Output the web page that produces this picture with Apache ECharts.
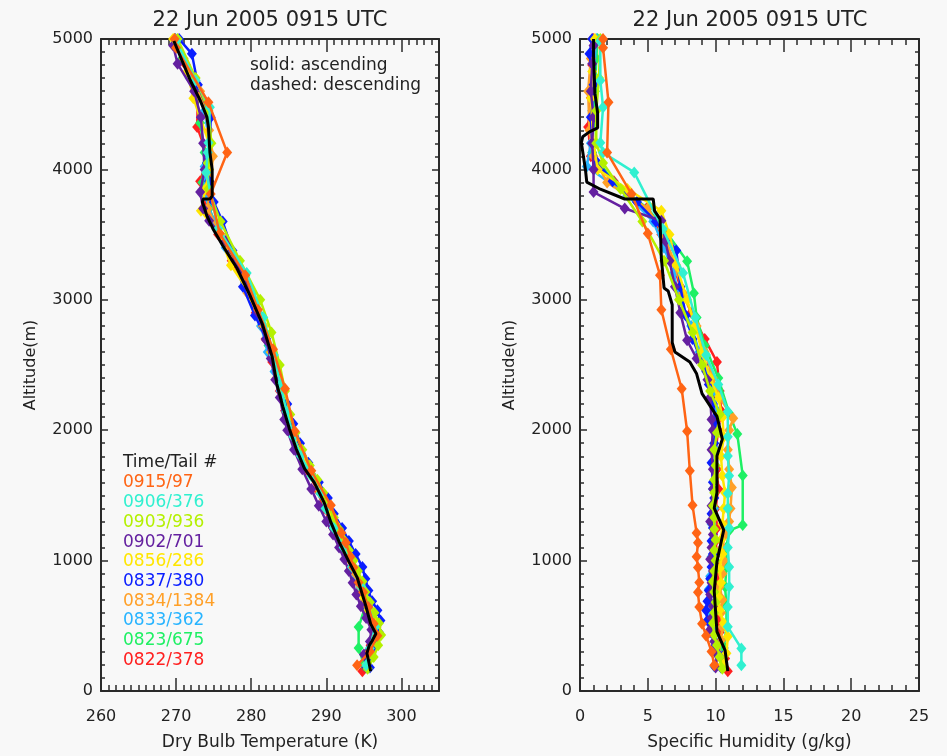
<!DOCTYPE html>
<html><head><meta charset="utf-8">
<script src="https://cdn.jsdelivr.net/npm/echarts@6/dist/echarts.min.js"></script>
<style>html,body{margin:0;padding:0;background:#f8f8f8}#c{width:947px;height:756px}</style>
</head><body><div id="c"></div>
<script>
// ---- Data (altitude m, dry bulb temperature K, specific humidity g/kg) ----
const titleText = '22 Jun 2005 0915 UTC';
const tempTicks = [260, 270, 280, 290, 300];
const humTicks = [0, 5, 10, 15, 20, 25];
const altTicks = [0, 1000, 2000, 3000, 4000, 5000];

const alt_0915 = [197,303,424,515,644,758,833,947,1030,1136,1212,1424,1689,1992,2318,2621,2924,3189,3508,3811,4129,4515,4932,5000];
const hum_0915 = [9.9,9.7,9.3,9.0,8.8,8.7,8.8,8.7,8.6,8.7,8.6,8.3,8.1,7.9,7.5,6.7,6.0,5.9,5.0,3.8,2.0,2.1,1.7,1.7];
const tmp_0915 = [294.1,295.8,296.8,296.3,295.6,294.9,294.3,293.6,293.2,292.6,292.0,290.6,288.0,285.8,284.5,282.9,280.9,279.2,275.8,274.6,276.8,274.3,270.0,269.8];

const alt_0906 = [197,326,492,644,800,950,1100,1250,1400,1515,1650,1803,1950,2144,2350,2576,2864,3205,3545,3977,4129,4205,4477,4682,4985];
const hum_0906 = [11.9,11.9,10.9,10.9,11.0,11.0,10.9,11.0,10.9,10.9,11.0,10.9,10.9,10.9,10.2,9.3,8.5,7.6,6.1,4.0,1.7,1.5,1.7,1.5,1.5];
const tmp_0906 = [295.3,295.8,296.5,295.6,294.6,293.4,292.3,291.0,289.9,289.2,288.0,286.6,285.6,284.7,283.9,283.0,281.6,279.4,275.6,274.0,274.2,274.3,274.5,272.6,270.0];

const alt_0903 = [170,260,350,430,520,600,680,760,840,920,1000,1080,1160,1240,1330,1420,1520,1620,1730,1850,1980,2120,2300,2500,2750,3000,3300,3600,3850,4050,4200,4450,4700,5000];
const hum_0903 = [10.5,10.3,10.1,9.9,9.8,9.9,10.0,9.9,9.8,9.9,10.0,9.9,10.0,9.9,9.9,9.8,9.9,9.9,10.0,9.9,10.1,10.3,9.6,9.0,8.3,7.3,6.2,4.6,3.0,1.7,1.2,1.2,1.4,1.5];
const tmp_0903 = [295.5,296.3,296.9,297.3,297.0,296.4,295.8,295.2,294.8,294.2,293.6,293.0,292.3,291.7,291.0,290.3,289.6,288.8,287.8,286.8,285.9,285.2,284.5,283.8,282.7,281.2,278.5,275.9,274.3,274.2,274.7,274.3,272.6,270.2];

const alt_0902 = [180,280,380,470,560,650,740,830,920,1010,1100,1200,1300,1420,1550,1700,1850,2000,2083,2250,2386,2550,2689,2900,3100,3300,3450,3606,3700,3826,4000,4200,4400,4600,4810,4950];
const hum_0902 = [10.0,10.1,9.9,9.6,9.7,9.8,9.6,9.7,9.8,9.6,9.7,9.8,9.6,9.7,9.8,9.8,9.7,9.8,9.7,9.6,9.4,8.6,7.9,7.4,7.0,6.6,6.3,6.0,3.3,1.0,1.0,0.9,1.0,0.8,0.9,1.0];
const tmp_0902 = [295.3,295.0,295.8,296.0,295.3,294.6,294.0,293.5,293.0,292.4,291.7,290.9,290.0,289.0,288.0,286.8,285.7,284.8,284.4,283.8,283.2,282.6,282.0,280.9,279.6,277.9,276.6,274.4,273.6,273.2,273.8,273.6,273.3,272.4,270.2,269.6];

const alt_0856 = [200,290,417,520,620,720,830,940,1050,1160,1280,1400,1520,1650,1800,1950,2100,2250,2400,2600,2800,3000,3265,3500,3682,3850,4000,4200,4545,4750,5000];
const hum_0856 = [10.5,10.8,10.9,10.6,10.3,10.2,10.4,10.3,10.5,10.4,10.5,10.6,10.7,10.5,10.4,10.6,10.5,10.2,9.6,9.0,8.5,7.9,7.1,6.6,6.0,3.5,1.3,1.0,0.8,0.9,1.1];
const tmp_0856 = [295.3,295.8,296.4,296.5,295.6,295.0,294.3,293.7,292.9,292.1,291.2,290.2,289.2,288.1,286.8,285.6,284.9,284.1,283.4,282.7,281.7,280.4,277.3,275.8,273.3,273.9,274.4,274.4,272.3,271.5,269.6];

const alt_0837 = [180,265,350,450,540,620,689,770,860,950,1050,1150,1250,1360,1480,1600,1750,1900,2050,2200,2350,2500,2700,2879,3100,3379,3600,3750,3909,4050,4200,4400,4650,4886,5000];
const hum_0837 = [10.4,10.5,10.0,9.6,9.4,9.3,9.4,9.5,9.6,9.7,9.8,9.7,9.8,9.7,9.9,9.8,9.7,9.9,10.0,9.8,9.5,9.1,8.3,7.8,7.4,7.1,5.6,4.2,2.4,1.3,0.9,0.8,1.0,0.7,0.9];
const tmp_0837 = [295.8,296.0,296.5,297.0,297.2,296.8,296.1,295.6,295.2,294.8,293.9,293.0,292.1,291.0,290.2,289.0,287.6,286.5,285.6,284.8,283.9,283.3,282.0,280.5,278.9,277.5,276.2,275.0,274.4,274.1,274.5,274.6,272.9,272.1,270.4];

const alt_0834 = [190,290,390,490,600,700,800,900,1000,1100,1200,1300,1400,1561,1700,1850,2000,2091,2250,2400,2600,2800,3053,3300,3500,3700,3900,4100,4300,4600,4850,5000];
const hum_0834 = [10.0,10.2,10.4,10.5,10.4,10.5,10.3,10.5,10.6,10.5,10.7,11.0,11.1,11.2,11.0,10.9,11.0,11.3,10.3,9.8,9.2,8.6,7.6,6.9,6.2,5.0,2.0,1.0,0.7,0.6,0.8,0.9];
const tmp_0834 = [295.6,295.4,296.2,296.7,295.8,295.1,294.5,293.9,293.2,292.4,291.7,290.9,290.1,288.8,287.7,286.4,285.4,284.9,284.1,283.4,282.6,281.5,279.5,277.6,275.9,274.2,274.6,274.9,274.4,273.2,271.0,269.8];

const alt_0833 = [189,280,380,480,580,680,780,880,1030,1150,1280,1400,1550,1700,1850,2000,2150,2300,2450,2600,2800,3000,3200,3400,3600,3800,4023,4200,4450,4700,5000];
const hum_0833 = [9.9,10.2,10.0,9.8,9.7,9.6,9.5,9.6,9.7,9.8,9.7,9.9,9.8,9.9,10.0,9.9,10.1,9.9,9.3,8.8,8.2,7.4,6.9,6.2,5.4,3.5,0.5,0.8,0.9,1.0,1.2];
const tmp_0833 = [295.4,295.5,295.9,296.3,295.6,295.0,294.5,293.9,292.9,292.0,291.0,290.1,289.0,287.7,286.5,285.5,284.6,283.9,283.1,282.2,281.3,280.2,278.9,276.6,275.0,273.9,273.8,274.4,273.8,271.8,269.9];

const alt_0823 = [200,330,490,650,800,950,1100,1230,1273,1652,1970,2129,2400,2650,2864,3050,3295,3500,3700,3900,4129,4356,4600,4850,5000];
const hum_0823 = [10.5,10.6,10.8,10.8,10.7,10.8,10.8,11.0,12.0,12.0,11.6,11.0,10.2,9.2,8.6,8.4,7.9,6.5,5.0,2.5,0.9,1.0,1.1,1.2,1.3];
const tmp_0823 = [295.0,294.3,294.3,295.2,294.8,293.6,292.5,291.2,291.0,288.0,285.4,284.7,283.6,282.3,281.3,280.0,278.0,275.9,274.4,273.5,273.8,273.2,272.6,270.8,269.8];

const alt_0822 = [152,250,350,450,550,650,750,850,950,1050,1150,1250,1400,1550,1700,1850,2000,2150,2300,2523,2700,2900,3100,3300,3500,3700,3909,4100,4326,4550,4800,5000];
const hum_0822 = [10.9,10.7,10.5,10.3,10.2,10.1,10.0,10.1,10.2,10.1,10.0,10.1,10.0,10.2,10.1,10.0,10.2,10.4,10.3,10.1,9.2,8.2,7.4,6.8,6.0,4.9,2.5,0.8,0.6,0.8,0.9,1.0];
const tmp_0822 = [294.8,295.6,295.9,296.4,296.1,295.4,294.7,294.0,293.4,292.6,291.8,290.9,289.7,288.7,287.4,286.2,285.3,284.5,283.8,282.8,281.9,280.6,279.2,277.4,275.6,274.0,273.2,274.2,272.8,272.9,271.3,269.9];

// mean profiles (black)
const meanTempAlt = [152,212,288,348,386,439,515,644,871,992,1144,1295,1447,1598,1705,1856,2008,2182,2356,2561,2811,3038,3242,3417,3545,3644,3750,3773,3773,3795,4000,4129,4326,4402,4530,4682,4833,4985];
const meanTemp = [295.9,295.7,295.4,295.7,296.1,296.6,295.9,295.3,294.1,293.0,291.7,290.6,289.7,288.4,287.1,286.0,285.1,284.2,283.4,282.8,281.5,279.8,278.1,276.2,274.9,274.1,273.5,273.6,274.5,274.8,274.8,274.5,274.3,274.1,273.2,271.9,270.8,269.7];
const meanHumAlt = [152,311,455,765,992,1235,1402,1523,1803,1932,2106,2280,2432,2523,2600,2674,2962,3068,3091,3318,3621,3682,3773,3773,3848,3902,4000,4205,4250,4288,4318,4432,4583,4871,5000];
const meanHum = [10.9,10.7,10.1,9.9,10.1,10.6,9.9,10.1,10.1,10.5,10.1,9.0,8.6,8.1,7.0,6.8,6.8,6.5,6.2,6.0,5.9,5.5,5.4,3.3,1.5,0.5,0.4,0.1,0.2,0.7,1.3,1.3,1.1,1.0,1.0];

const flightLabels = ['0915/97','0906/376','0903/936','0902/701','0856/286','0837/380','0834/1384','0833/362','0823/675','0822/378'];
const flightColors = ['#ff6414','#30f0d0','#b4f000','#6420a0','#ffe600','#0a1eff','#ffa028','#28b4ff','#1ef064','#ff2020'];
const flightAlts = [alt_0915, alt_0906, alt_0903, alt_0902, alt_0856, alt_0837, alt_0834, alt_0833, alt_0823, alt_0822];
const flightTemps = [tmp_0915, tmp_0906, tmp_0903, tmp_0902, tmp_0856, tmp_0837, tmp_0834, tmp_0833, tmp_0823, tmp_0822];
const flightHums = [hum_0915, hum_0906, hum_0903, hum_0902, hum_0856, hum_0837, hum_0834, hum_0833, hum_0823, hum_0822];

// ---- Chart ----
const FONT = 'DejaVu Sans';
const TXT = '#222';
const AX = '#2a2a2a';
const chart = echarts.init(document.getElementById('c'), null, {renderer: 'canvas'});

const grids = [
  {left: 101, top: 39, width: 338, height: 659},
  {left: 580, top: 39, width: 339, height: 659}
];
const plain = v => String(v);

function xMajor(g, min, max, interval, pos, name, minorSplit) {
  const a = {
    gridIndex: g, type: 'value', min: min, max: max, interval: interval, position: pos,
    axisLine: {show: true, onZero: false, lineStyle: {color: AX, width: 2}},
    axisTick: {show: true, inside: true, length: 13, lineStyle: {color: AX, width: 1.5}},
    axisLabel: {show: pos === 'bottom', fontFamily: FONT, fontSize: 16, color: TXT, margin: 18, formatter: plain,
      showMaxLabel: (max - min) % interval === 0},
    splitLine: {show: false}
  };
  if (minorSplit) a.minorTick = {show: true, splitNumber: minorSplit, length: 6, lineStyle: {color: AX, width: 1.5}};
  if (name) {
    a.name = name; a.nameLocation = 'middle'; a.nameGap = 43;
    a.nameTextStyle = {fontFamily: FONT, fontSize: 17, color: TXT};
  }
  return a;
}
function xMinor(g, min, max, interval, pos) {
  return {
    gridIndex: g, type: 'value', min: min, max: max, interval: interval, position: pos,
    axisLine: {show: false, onZero: false},
    axisTick: {show: true, inside: true, length: 6, lineStyle: {color: AX, width: 1.5}},
    axisLabel: {show: false}, splitLine: {show: false}
  };
}
function yAx(g, pos, withLabel) {
  const a = {
    gridIndex: g, type: 'value', min: 0, max: 5000, interval: 1000, position: pos,
    axisLine: {show: true, onZero: false, lineStyle: {color: AX, width: 2}},
    axisTick: {show: true, inside: true, length: 7, lineStyle: {color: AX, width: 1.5}},
    minorTick: {show: true, splitNumber: 10, length: 4, lineStyle: {color: AX, width: 1.5}},
    axisLabel: {show: withLabel, fontFamily: FONT, fontSize: 16, color: TXT, margin: 8, formatter: plain},
    splitLine: {show: false}
  };
  if (withLabel) {
    a.name = 'Altitude(m)'; a.nameLocation = 'middle'; a.nameGap = 62;
    a.nameTextStyle = {fontFamily: FONT, fontSize: 16, color: TXT};
  }
  return a;
}

const xAxes = [
  xMajor(0, 260, 305, 10, 'bottom', 'Dry Bulb Temperature (K)', 0),   // 0
  xMajor(0, 260, 305, 10, 'top', null, 0),                            // 1
  xMinor(0, 260, 305, 1, 'bottom'),                                   // 2
  xMinor(0, 260, 305, 1, 'top'),                                      // 3
  xMajor(1, 0, 25, 5, 'bottom', 'Specific Humidity (g/kg)', 5),       // 4
  xMajor(1, 0, 25, 5, 'top', null, 5)                                 // 5
];
const yAxes = [
  yAx(0, 'left', true), yAx(0, 'right', false),
  yAx(1, 'left', true), yAx(1, 'right', false)
];

const series = [];
for (let i = flightLabels.length - 1; i >= 0; i--) {
  const alts = flightAlts[i];
  const z = 2 + (flightLabels.length - 1 - i) * 0.01;
  series.push({
    name: flightLabels[i] + ' T', type: 'line', xAxisIndex: 0, yAxisIndex: 0, z: z,
    data: alts.map((a, k) => [flightTemps[i][k], a]),
    symbol: 'diamond', symbolSize: [10, 12], showSymbol: true,
    itemStyle: {color: flightColors[i]}, lineStyle: {color: flightColors[i], width: 2.5},
    animation: false, silent: true
  });
  series.push({
    name: flightLabels[i] + ' q', type: 'line', xAxisIndex: 4, yAxisIndex: 2, z: z,
    data: alts.map((a, k) => [flightHums[i][k], a]),
    symbol: 'diamond', symbolSize: [10, 12], showSymbol: true,
    itemStyle: {color: flightColors[i]}, lineStyle: {color: flightColors[i], width: 2.5},
    animation: false, silent: true
  });
}
series.push({
  name: 'mean T', type: 'line', xAxisIndex: 0, yAxisIndex: 0, z: 5,
  data: meanTempAlt.map((a, k) => [meanTemp[k], a]),
  showSymbol: false, symbol: 'none', lineStyle: {color: '#000', width: 3}, animation: false, silent: true
});
series.push({
  name: 'mean q', type: 'line', xAxisIndex: 4, yAxisIndex: 2, z: 5,
  data: meanHumAlt.map((a, k) => [meanHum[k], a]),
  showSymbol: false, symbol: 'none', lineStyle: {color: '#000', width: 3}, animation: false, silent: true
});

const graphics = [
  {type: 'text', style: {text: titleText, x: 270, y: 21, textAlign: 'center', textVerticalAlign: 'middle', font: '21px "DejaVu Sans"', fill: TXT}},
  {type: 'text', style: {text: titleText, x: 750, y: 21, textAlign: 'center', textVerticalAlign: 'middle', font: '21px "DejaVu Sans"', fill: TXT}},
  {type: 'text', style: {text: 'solid: ascending', x: 250, y: 66, textAlign: 'left', textVerticalAlign: 'middle', font: '17px "DejaVu Sans"', fill: TXT}},
  {type: 'text', style: {text: 'dashed: descending', x: 250, y: 86, textAlign: 'left', textVerticalAlign: 'middle', font: '17px "DejaVu Sans"', fill: TXT}},
  {type: 'text', style: {text: 'Time/Tail #', x: 123, y: 463, textAlign: 'left', textVerticalAlign: 'middle', font: '17px "DejaVu Sans"', fill: TXT}}
];
flightLabels.forEach((lab, i) => {
  graphics.push({type: 'text', style: {text: lab, x: 123, y: 483 + i * 19.7, textAlign: 'left', textVerticalAlign: 'middle', font: '17px "DejaVu Sans"', fill: flightColors[i]}});
});

chart.setOption({
  backgroundColor: '#f8f8f8',
  animation: false,
  grid: grids,
  xAxis: xAxes,
  yAxis: yAxes,
  series: series,
  graphic: graphics
});
</script>
</body></html>
